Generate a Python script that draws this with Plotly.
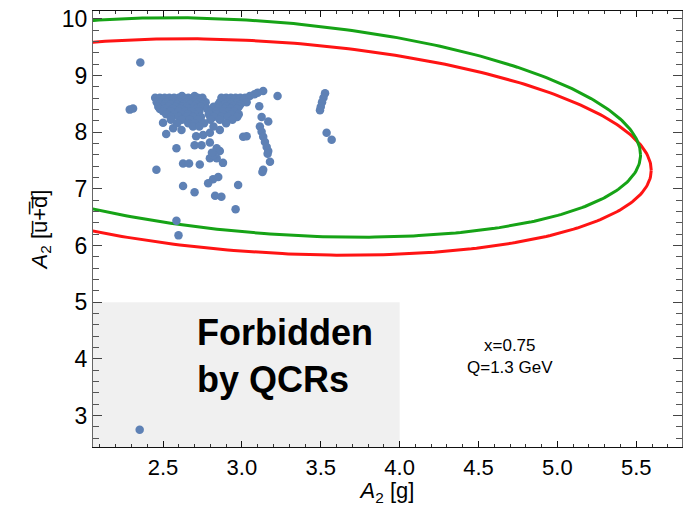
import numpy as np
import plotly.graph_objects as go

# ---------------- data ----------------
x_range = [2.056, 5.79]
y_range = [2.444, 10.141]

x_tick_vals = [2.5, 3.0, 3.5, 4.0, 4.5, 5.0, 5.5]
x_tick_text = ["2.5", "3.0", "3.5", "4.0", "4.5", "5.0", "5.5"]
y_tick_vals = [3, 4, 5, 6, 7, 8, 9, 10]
y_tick_text = ["3", "4", "5", "6", "7", "8", "9", "10"]

# forbidden region (QCR bound)
forbidden_x_max = 4.0
forbidden_y_max = 5.0

# ellipse parameters: centre, x-semi-axis, y-shear, y-amplitude
red_ellipse = dict(cx=3.15, cy=7.74, A=2.445, B=-0.41, C=1.866)
green_ellipse = dict(cx=3.15, cy=8.085, A=2.377, B=-0.485, C=1.875)

# outlying points
pts_x_outer = [2.356, 2.289, 2.31, 2.458, 2.52, 2.585, 2.627, 2.665, 2.733, 2.70, 2.744,
               2.797, 2.84, 2.86, 2.797, 2.84, 2.88, 2.817, 2.85, 2.786, 2.627, 2.70,
               2.83, 2.87, 2.976, 2.96, 2.585, 2.598, 3.008, 3.03,
               3.114, 3.125, 3.135, 3.146, 3.157, 3.167, 3.163,
               3.167, 3.125, 3.11, 3.135, 3.226, 3.178, 3.135, 3.13,
               3.527, 3.517, 3.508, 3.50, 3.495, 3.537, 3.569, 2.352,
               2.50, 2.564, 2.617, 2.71, 2.754, 2.797, 2.86, 3.10, 2.82, 2.81]
pts_y_outer = [9.23, 8.40, 8.42, 7.34, 7.97, 7.72, 7.45, 7.45, 7.43, 7.77, 7.77,
               7.82, 7.72, 7.67, 7.54, 7.54, 7.46, 7.17, 7.21, 7.10, 7.05, 6.94,
               6.88, 6.86, 7.07, 6.64, 6.44, 6.18, 7.92, 7.93,
               8.10, 8.01, 7.92, 7.83, 7.74, 7.67, 7.62,
               8.19, 8.27, 8.46, 8.73, 8.64, 7.48, 7.34, 7.30,
               8.69, 8.61, 8.53, 8.45, 8.39, 7.99, 7.87, 2.75,
               8.17, 8.07, 8.04, 7.93, 7.95, 7.99, 8.04, 8.70, 7.60, 7.64]

# dense cluster, row by row
cluster_rows = {
    8.61: [2.45, 2.48, 2.51, 2.54, 2.57, 2.60, 2.63, 2.66, 2.69, 2.72, 2.75,
           2.87, 2.90, 2.93, 2.96, 2.99, 3.02],
    8.64: [3.05, 2.62, 2.70],
    8.67: [3.08],
    8.57: [2.47, 2.50, 2.53, 2.56, 2.61, 2.64, 2.67, 2.71, 2.74, 2.89, 2.92, 2.95, 2.98, 3.01],
    8.53: [2.46, 2.49, 2.52, 2.57, 2.60, 2.65, 2.69, 2.73, 2.77, 2.86, 2.91, 2.94, 2.97, 3.03],
    8.49: [2.48, 2.51, 2.55, 2.59, 2.63, 2.67, 2.71, 2.75, 2.85, 2.89, 2.93, 2.99],
    8.45: [2.47, 2.50, 2.53, 2.58, 2.62, 2.65, 2.70, 2.74, 2.82, 2.86, 2.90, 2.94, 2.98],
    8.41: [2.48, 2.51, 2.56, 2.61, 2.66, 2.71, 2.78, 2.81, 2.85, 2.89, 2.93, 2.97],
    8.37: [2.50, 2.55, 2.60, 2.64, 2.68, 2.73, 2.80, 2.84, 2.88, 2.92, 2.95],
    8.32: [2.52, 2.57, 2.62, 2.66, 2.70, 2.79, 2.84, 2.88, 2.93, 2.98],
    8.27: [2.55, 2.60, 2.65, 2.69, 2.74, 2.82, 2.87, 2.91, 2.97],
    8.22: [2.55, 2.62, 2.67, 2.72, 2.80, 2.86, 2.94],
    8.16: [2.59, 2.66, 2.70, 2.76, 2.90],
    8.10: [2.69, 2.73, 2.82],
}

annotation_main = ["Forbidden", "by QCRs"]
annotation_params = "x=0.75<br>Q=1.3 GeV"

# ---------------- build figure ----------------
pts_x = list(pts_x_outer)
pts_y = list(pts_y_outer)
for yv, xs in cluster_rows.items():
    pts_x += xs
    pts_y += [yv] * len(xs)


def ellipse(p):
    t = np.linspace(0, 2 * np.pi, 400)
    return (p["cx"] + p["A"] * np.cos(t),
            p["cy"] + p["B"] * np.cos(t) + p["C"] * np.sin(t))


fig = go.Figure()

ex, ey = ellipse(red_ellipse)
fig.add_trace(go.Scatter(x=ex, y=ey, mode="lines",
                         line=dict(color="#ff1414", width=3), hoverinfo="skip"))
ex, ey = ellipse(green_ellipse)
fig.add_trace(go.Scatter(x=ex, y=ey, mode="lines",
                         line=dict(color="#16a316", width=3), hoverinfo="skip"))

fig.add_trace(go.Scatter(x=pts_x, y=pts_y, mode="markers",
                         marker=dict(color="#5e81b5", size=8.5, line=dict(width=0))))

fig.add_shape(type="rect", xref="x", yref="y",
              x0=x_range[0] - 1, x1=forbidden_x_max,
              y0=y_range[0] - 1, y1=forbidden_y_max,
              fillcolor="#f0f0f0", line=dict(width=0), layer="below")

font_family = "Liberation Sans, Arial, sans-serif"

fig.add_annotation(x=2.70, y=4.47, xref="x", yref="y", text="<b>%s</b>" % annotation_main[0],
                   showarrow=False, xanchor="left", yanchor="middle",
                   font=dict(family=font_family, size=36, color="black"))
fig.add_annotation(x=2.70, y=3.63, xref="x", yref="y", text="<b>%s</b>" % annotation_main[1],
                   showarrow=False, xanchor="left", yanchor="middle",
                   font=dict(family=font_family, size=36, color="black"))
fig.add_annotation(x=4.70, y=4.05, xref="x", yref="y", text=annotation_params,
                   showarrow=False, xanchor="center", yanchor="middle",
                   font=dict(family=font_family, size=17, color="black"))

fig.update_layout(
    width=684, height=506,
    margin=dict(l=93, r=2, t=11, b=59),
    paper_bgcolor="white", plot_bgcolor="white",
    showlegend=False,
    font=dict(family=font_family, color="black"),
)

fig.update_xaxes(
    range=x_range, showgrid=False, zeroline=False,
    showline=True, linecolor="#111", linewidth=1.2, mirror="ticks",
    ticks="inside", ticklen=6, tickcolor="#111", tickwidth=1,
    tickvals=x_tick_vals, ticktext=x_tick_text,
    tickfont=dict(size=22, family=font_family),
    minor=dict(dtick=0.1, ticks="inside", ticklen=3, tickcolor="#333", showgrid=False),
    title=dict(text="<i>A</i><sub>2</sub> [g]", font=dict(size=22), standoff=4),
)
fig.update_yaxes(
    range=y_range, showgrid=False, zeroline=False,
    showline=True, linecolor="#666", linewidth=1.2, mirror="ticks",
    ticks="inside", ticklen=9, tickcolor="#444", tickwidth=1,
    tickvals=y_tick_vals, ticktext=y_tick_text,
    tickfont=dict(size=23, family=font_family),
    minor=dict(dtick=0.2, tick0=2.0, ticks="inside", ticklen=6, tickcolor="#555", showgrid=False),
    title=dict(text="<i>A</i><sub>2</sub> [u\u0305+\u0305d\u0305]", font=dict(size=22), standoff=8),
)

fig.write_html("out.html")
